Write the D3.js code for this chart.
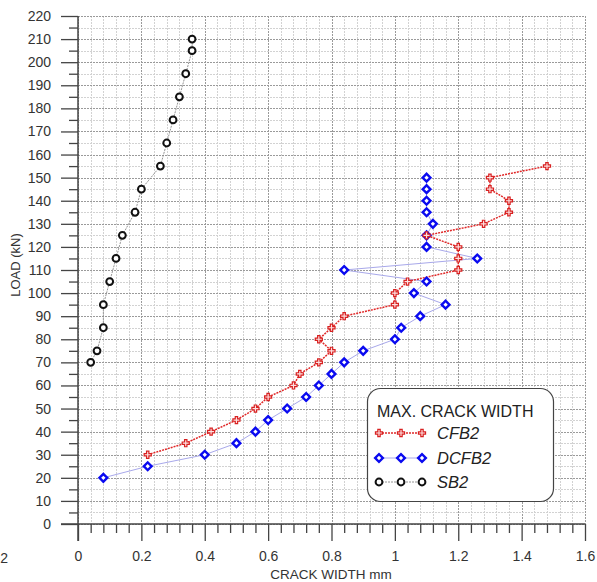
<!DOCTYPE html>
<html><head><meta charset="utf-8">
<script src="https://cdn.jsdelivr.net/npm/d3@7"></script>
<style>body{margin:0;background:#fff}svg{display:block}text{font-family:"Liberation Sans",Arial,sans-serif}</style>
</head><body>
<script>
const cfbWidth = [0.22,0.34,0.42,0.50,0.56,0.60,0.68,0.70,0.76,0.80,0.76,0.80,0.84,1.00,1.00,1.04,1.20,1.20,1.20,1.10,1.28,1.36,1.36,1.30,1.30,1.48];
const cfbLoad  = [30,35,40,45,50,55,60,65,70,75,80,85,90,95,100,105,110,115,120,125,130,135,140,145,150,155];
const dcfbWidth = [0.08,0.22,0.40,0.50,0.56,0.60,0.66,0.72,0.76,0.80,0.84,0.90,1.00,1.02,1.08,1.16,1.06,1.10,0.84,1.26,1.10,1.10,1.12,1.10,1.10,1.10,1.10];
const dcfbLoad  = [20,25,30,35,40,45,50,55,60,65,70,75,80,85,90,95,100,105,110,115,120,125,130,135,140,145,150];
const sbWidth = [0.04,0.06,0.08,0.08,0.10,0.12,0.14,0.18,0.20,0.26,0.28,0.30,0.32,0.34,0.36,0.36];
const sbLoad  = [70,75,85,95,105,115,125,135,145,155,165,175,185,195,205,210];
const xTicks = [0,0.2,0.4,0.6,0.8,1,1.2,1.4,1.6];
const yTicks = d3.range(0,221,10);
const legendTitle = "MAX. CRACK WIDTH";
const seriesNames = ["CFB2","DCFB2","SB2"];

const W=597,H=582;
const svg=d3.select("body").append("svg").attr("width",W).attr("height",H);
const x=d3.scaleLinear().domain([0,1.6]).range([78,585]);
const y=d3.scaleLinear().domain([0,220]).range([524,16]);

// grid
const g=svg.append("g");
const minorX=d3.range(0,1.6001,0.04), minorY=d3.range(0,220.01,5);
g.selectAll(".vx").data(minorX).join("line")
 .attr("x1",d=>Math.round(x(d))+0.5).attr("x2",d=>Math.round(x(d))+0.5).attr("y1",y(220)).attr("y2",y(0))
 .attr("stroke",(d,i)=>i%5===0?"#9a9a9a":"#d2d2d2").attr("stroke-width",1).attr("stroke-dasharray","2,1");
g.selectAll(".hy").data(minorY).join("line")
 .attr("y1",d=>Math.round(y(d))+0.5).attr("y2",d=>Math.round(y(d))+0.5).attr("x1",x(0)).attr("x2",x(1.6))
 .attr("stroke",(d,i)=>i%2===0?"#9a9a9a":"#d2d2d2").attr("stroke-width",1).attr("stroke-dasharray","2,1");

// axes
const xAxis=d3.axisBottom(x).tickValues(minorX).tickSize(9).tickFormat("");
const xa=svg.append("g").attr("transform",`translate(0,${y(0)})`).call(xAxis);
xa.select(".domain").remove();
xa.selectAll(".tick line").attr("y2",(d,i)=>i%5===0?17:9).attr("stroke","#444").attr("stroke-width",1.3);
svg.append("line").attr("x1",61).attr("x2",585).attr("y1",y(0)).attr("y2",y(0)).attr("stroke","#444").attr("stroke-width",1.5);
svg.append("line").attr("x1",x(0)).attr("x2",x(0)).attr("y1",y(220)).attr("y2",541).attr("stroke","#444").attr("stroke-width",1.5);
const xl=d3.axisBottom(x).tickValues(xTicks).tickSize(0).tickFormat(d=>d3.format("")(d));
const xlg=svg.append("g").attr("transform",`translate(0,${y(0)+24})`).call(xl);
xlg.select(".domain").remove();
xlg.selectAll("text").attr("font-size",14).attr("fill","#333").attr("font-family","Liberation Sans, Arial");

const yAxis=d3.axisLeft(y).tickValues(minorY).tickSize(9).tickFormat("");
const ya=svg.append("g").attr("transform",`translate(${x(0)},0)`).call(yAxis);
ya.select(".domain").remove();
ya.selectAll(".tick line").attr("x2",(d,i)=>i%2===0?-17:-9).attr("stroke","#444").attr("stroke-width",1.3);
const yl=d3.axisLeft(y).tickValues(yTicks).tickSize(0);
const ylg=svg.append("g").attr("transform",`translate(${x(0)-24},0)`).call(yl);
ylg.select(".domain").remove();
ylg.selectAll("text").attr("font-size",14).attr("fill","#333").attr("font-family","Liberation Sans, Arial");

svg.append("text").attr("x",331).attr("y",579).attr("text-anchor","middle").attr("font-size",13.5).attr("fill","#333").text("CRACK WIDTH mm");
svg.append("text").attr("transform","translate(20,265) rotate(-90)").attr("text-anchor","middle").attr("font-size",13).attr("fill","#333").text("LOAD (kN)");
svg.append("text").attr("x",8).attr("y",563).attr("text-anchor","end").attr("font-size",14).attr("fill","#333").text("2");

// series
const line=d3.line().x(d=>x(d[0])).y(d=>y(d[1]));
const sb=d3.zip(sbWidth,sbLoad), dc=d3.zip(dcfbWidth,dcfbLoad), cf=d3.zip(cfbWidth,cfbLoad);
svg.append("path").datum(sb).attr("d",line).attr("fill","none").attr("stroke","#888").attr("stroke-width",0.9).attr("stroke-dasharray","2,1");
svg.append("path").datum(dc).attr("d",line).attr("fill","none").attr("stroke","#a8a8ea").attr("stroke-width",1);
svg.append("path").datum(cf).attr("d",line).attr("fill","none").attr("stroke","#e02828").attr("stroke-width",1.5).attr("stroke-dasharray","2,1");

const sq=d3.symbol().type(d3.symbolSquare).size(30);
const cr=d3.symbol().type(d3.symbolCross).size(28);
function drawSB(sel){sel.append("circle").attr("r",3.4).attr("fill","#fff").attr("stroke","#111").attr("stroke-width",2);}
function drawDC(sel){sel.append("path").attr("d",sq).attr("transform","rotate(45)").attr("fill","#fff").attr("stroke","#0a0af0").attr("stroke-width",2.4);}
function drawCF(sel){sel.append("path").attr("d",cr).attr("fill","#fde0e0").attr("stroke","#d82020").attr("stroke-width",1.2);}
svg.selectAll(".sbm").data(sb).join("g").attr("transform",d=>`translate(${x(d[0])},${y(d[1])})`).call(drawSB);
svg.selectAll(".dcm").data(dc).join("g").attr("transform",d=>`translate(${x(d[0])},${y(d[1])})`).call(drawDC);
svg.selectAll(".cfm").data(cf).join("g").attr("transform",d=>`translate(${x(d[0])},${y(d[1])})`).call(drawCF);

// legend
const lg=svg.append("g");
lg.append("rect").attr("x",367.5).attr("y",388.5).attr("width",186).attr("height",113).attr("rx",13).attr("fill","#fff").attr("stroke","#444").attr("stroke-width",1.2);
lg.append("text").attr("x",377).attr("y",417).attr("font-size",16).attr("fill","#222").text(legendTitle);
const rows=[{y:433,draw:drawCF,stroke:"#e02828",dash:"2,1",w:1.5},{y:458,draw:drawDC,stroke:"#a8a8ea",dash:null,w:1},{y:482,draw:drawSB,stroke:"#888",dash:"2,1",w:0.9}];
rows.forEach((r,i)=>{
  lg.append("line").attr("x1",379).attr("x2",422).attr("y1",r.y).attr("y2",r.y).attr("stroke",r.stroke).attr("stroke-width",r.w).attr("stroke-dasharray",r.dash);
  [379,401,422].forEach(px=>lg.append("g").attr("transform",`translate(${px},${r.y})`).call(r.draw));
  lg.append("text").attr("x",437).attr("y",r.y+6).attr("font-size",16.5).attr("font-style","italic").attr("fill","#222").text(seriesNames[i]);
});
</script>
</body></html>
